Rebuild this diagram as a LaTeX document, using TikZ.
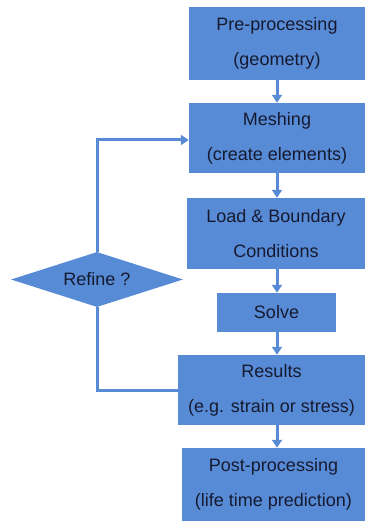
\documentclass[tikz,border=0pt]{standalone}
\usepackage{fontspec}
\setmainfont{Liberation Sans}
\usetikzlibrary{shapes.geometric,arrows.meta}
\definecolor{boxblue}{RGB}{88,139,214}
\definecolor{txt}{RGB}{22,26,48}
\begin{document}
\begin{tikzpicture}[x=1pt,y=1pt,
  stepbox/.style={rectangle,fill=boxblue,draw=none,inner sep=0pt,align=center,text=txt,
    font=\fontsize{18}{35}\selectfont},
  conn/.style={draw=boxblue,line width=3pt},
  arr/.style={conn,-{Triangle[width=10pt,length=8pt]}}]
\useasboundingbox (0,0) rectangle (367,521);
\node[stepbox,minimum width=176pt,minimum height=73pt] (b1) at (277,477.5) {Pre-processing\\(geometry)};
\node[stepbox,minimum width=176pt,minimum height=70pt] (b2) at (277,383) {Meshing\\(create elements)};
\node[stepbox,minimum width=178pt,minimum height=71pt] (b3) at (276,287.5) {Load \& Boundary\\Conditions};
\node[stepbox,minimum width=119pt,minimum height=39pt] (b4) at (276.5,208.5) {Solve};
\node[stepbox,minimum width=187pt,minimum height=70pt] (b5) at (271.5,131) {Results\\(e.g. strain or stress)};
\node[stepbox,minimum width=183pt,minimum height=73pt] (b6) at (273.5,36.5) {Post-processing\\(life time prediction)};
\node[diamond,shape aspect=3.127,fill=boxblue,inner sep=0pt,minimum width=172pt,minimum height=55pt,text=txt,
  font=\fontsize{18}{35}\selectfont] (d) at (97,241.5) {Refine ?};
\coordinate (ax) at (277,0);
\coordinate (lt) at (97,381);
\coordinate (lb) at (97,130);
\draw[arr] (b1.south -| ax) -- (b2.north -| ax);
\draw[arr] (b2.south -| ax) -- (b3.north -| ax);
\draw[arr] (b3.south -| ax) -- (b4.north -| ax);
\draw[arr] (b4.south -| ax) -- (b5.north -| ax);
\draw[arr] (b5.south -| ax) -- (b6.north -| ax);
\draw[arr] (d.north) -- (lt) -- (lt -| b2.west);
\draw[conn] (d.south) -- (lb) -- (lb -| b5.west);
\end{tikzpicture}
\end{document}
